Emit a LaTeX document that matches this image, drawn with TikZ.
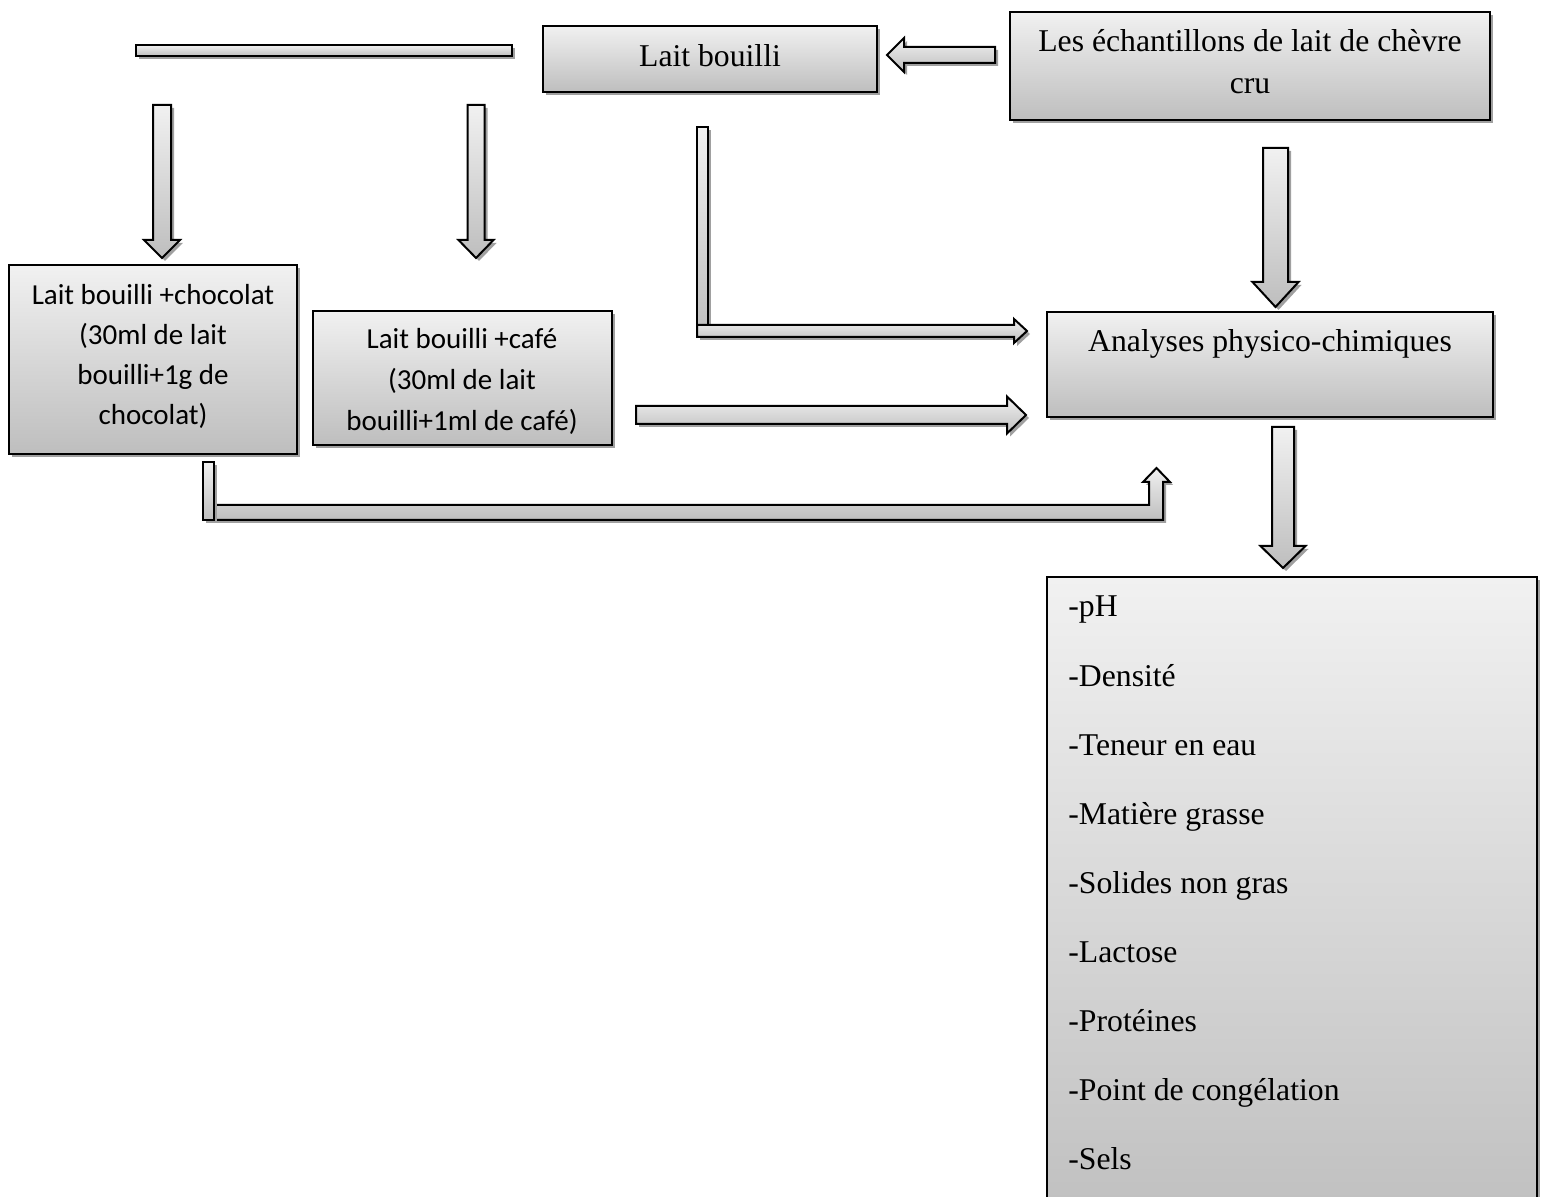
\documentclass[tikz,border=0pt]{standalone}
\usepackage{fontspec}
\setmainfont{Liberation Serif}
\newfontfamily\calfont{Carlito}
\usetikzlibrary{shadows}
\definecolor{gtop}{RGB}{241,241,241}
\definecolor{gbot}{RGB}{190,190,190}
\definecolor{shd}{RGB}{160,160,160}
\tikzset{
  shaded/.style={draw=black, line width=1pt, line join=miter, top color=gtop, bottom color=gbot,
    drop shadow={shadow xshift=1.5pt, shadow yshift=-1.5pt, fill=shd, opacity=1}},
  boxnode/.style={shaded, rectangle, inner sep=0pt},
  serif/.style={font=\fontsize{15.85}{19}\selectfont, inner sep=0pt, anchor=base},
  sans/.style={font=\calfont\fontsize{14.5}{17}\selectfont, inner sep=0pt, anchor=base},
  listitem/.style={serif, anchor=base west},
}
% down block arrow: cx, top, half shaft, head base, half head, tip
\newcommand\blkdown[6]{%
  \draw[shaded] ({#1-#3},#2) -- ({#1+#3},#2) -- ({#1+#3},#4) -- ({#1+#5},#4) -- (#1,#6)
    -- ({#1-#5},#4) -- ({#1-#3},#4) -- cycle;}
% horizontal block arrow: cy, tail x, half shaft, head base x, half head, tip x
\newcommand\blkhoriz[6]{%
  \draw[shaded] (#2,{#1-#3}) -- (#4,{#1-#3}) -- (#4,{#1-#5}) -- (#6,#1) -- (#4,{#1+#5})
    -- (#4,{#1+#3}) -- (#2,{#1+#3}) -- cycle;}
\begin{document}
\begin{tikzpicture}[x=0.5pt,y=-0.5pt]
\useasboundingbox (0,0) rectangle (1542,1197);
\clip (0,0) rectangle (1542,1197);

% boxes
\node[boxnode, minimum width=188pt, minimum height=5.5pt] (bar) at (324,50.5) {};
\node[boxnode, minimum width=167pt, minimum height=33pt] (lb) at (710,59) {};
\node[boxnode, minimum width=240pt, minimum height=54pt] (ech) at (1250,66) {};
\node[boxnode, minimum width=144pt, minimum height=94.5pt] (choc) at (153,359.5) {};
\node[boxnode, minimum width=149.5pt, minimum height=67pt] (cafe) at (462.5,378) {};
\node[boxnode, minimum width=223pt, minimum height=52.5pt] (ana) at (1270,364.5) {};
\node[boxnode, minimum width=245pt, minimum height=331.5pt] (res) at (1292,908.5) {};

% texts
\node[serif] (lbt) at (710,67) {Lait bouilli};
\node[serif] (e1) at (1250,52) {Les échantillons de lait de chèvre};
\node[serif] (e2) at (1250,94) {cru};
\node[serif] (anat) at (1270,352) {Analyses physico-chimiques};
\node[sans] (c1) at (153,305) {Lait bouilli +chocolat};
\node[sans] (c2) at (153,345) {(30ml de lait};
\node[sans] (c3) at (153,385) {bouilli+1g de};
\node[sans] (c4) at (153,425) {chocolat)};
\node[sans] (k1) at (462,349) {Lait bouilli +café};
\node[sans] (k2) at (462,390) {(30ml de lait};
\node[sans] (k3) at (462,431) {bouilli+1ml de café)};
\foreach \t [count=\i] in {-pH,-Densité,-Teneur en eau,-Matière grasse,-Solides non gras,-Lactose,-Protéines,-Point de congélation,-Sels}
  \node[listitem] (r\i) at (1068,{617+69*(\i-1)}) {\t};

% arrows
\blkdown{162}{105}{9}{240}{18}{258}
\blkdown{476}{105}{8.5}{240}{17.5}{258}
\blkdown{1275.5}{148}{12.5}{282}{23}{307}
\blkdown{1283}{427}{11}{546}{22.5}{568}
\blkhoriz{55}{995}{8}{904}{17}{887}
\blkhoriz{415}{636}{9}{1007}{18.5}{1026}
% L-shaped arrow from Lait bouilli
\draw[shaded] (697,127) rectangle (708,337);
\blkhoriz{331}{697}{6}{1014}{12}{1027}
% bent-up arrow from chocolat
\draw[shaded] (203,505) -- (1149,505) -- (1149,482) -- (1143,482) -- (1156.5,468) -- (1170,482)
  -- (1163,482) -- (1163,520) -- (203,520) -- cycle;
\draw[shaded] (203,462) rectangle (214,520);
\end{tikzpicture}
\end{document}
